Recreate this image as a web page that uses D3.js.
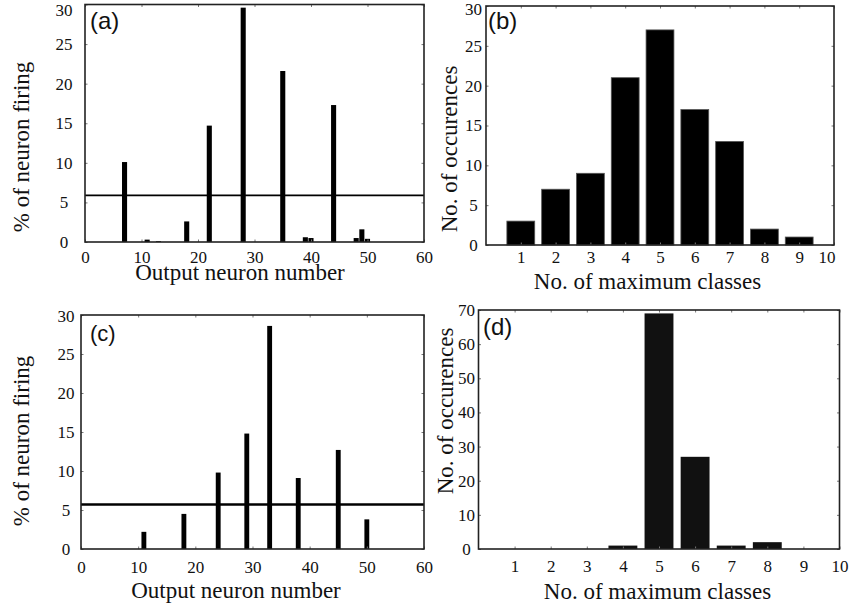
<!DOCTYPE html>
<html>
<head>
<meta charset="utf-8">
<script src="https://cdn.jsdelivr.net/npm/d3@7"></script>
<style>
  html, body { margin: 0; padding: 0; background: #fff; }
  svg { display: block; }
  .serif { font-family: 'Liberation Serif', 'Times New Roman', serif; }
  .sans { font-family: 'Liberation Sans', Arial, sans-serif; }
</style>
</head>
<body>
<svg id="chart" width="849" height="609"></svg>
<script>
// ---- data ----
const neuronsA = [7, 11, 13, 18, 22, 28, 35, 39, 40, 44, 48, 49, 50];
const firingA  = [10.1, 0.3, 0.1, 2.6, 14.7, 29.6, 21.6, 0.6, 0.5, 17.3, 0.5, 1.6, 0.4];
const thresholdA = 5.9;

const neuronsC = [11, 18, 24, 29, 33, 38, 45, 50];
const firingC  = [2.2, 4.5, 9.8, 14.8, 28.6, 9.1, 12.7, 3.8];
const thresholdC = 5.7;

const classes = [1, 2, 3, 4, 5, 6, 7, 8, 9];
const occurB  = [3, 7, 9, 21, 27, 17, 13, 2, 1];
const occurD  = [0, 0, 0, 1, 69, 27, 1, 2, 0];

const neuronTicks = [0, 10, 20, 30, 40, 50, 60];
const firingTicks = [0, 5, 10, 15, 20, 25, 30];
const classTicks  = [1, 2, 3, 4, 5, 6, 7, 8, 9, 10];
const occurTicksB = [0, 5, 10, 15, 20, 25, 30];
const occurTicksD = [0, 10, 20, 30, 40, 50, 60, 70];

const svg = d3.select("#chart");
const TICK_FS = 17, TITLE_FS = 23;

function panel(cfg) {
  const g = svg.append("g");
  const x = d3.scaleLinear().domain(cfg.xDomain).range([cfg.left, cfg.right]);
  const y = d3.scaleLinear().domain(cfg.yDomain).range([cfg.bottom, cfg.top]);

  // bars
  g.selectAll("rect.bar").data(cfg.xs.map((v, i) => ({x: v, y: cfg.ys[i]})).filter(d => d.y > 0))
    .enter().append("rect")
    .attr("x", d => x(d.x - cfg.barW / 2))
    .attr("width", d => x(d.x + cfg.barW / 2) - x(d.x - cfg.barW / 2))
    .attr("y", d => y(d.y))
    .attr("height", d => y(0) - y(d.y))
    .attr("fill", cfg.barColor)
    .attr("stroke", cfg.barStroke || "none")
    .attr("stroke-width", 0.8);

  // threshold
  if (cfg.threshold !== undefined) {
    g.append("line")
      .attr("x1", cfg.left).attr("x2", cfg.right)
      .attr("y1", y(cfg.threshold)).attr("y2", y(cfg.threshold))
      .attr("stroke", "#000").attr("stroke-width", cfg.thW);
  }

  // axes
  const bottom = g.append("g").attr("transform", `translate(0,${cfg.bottom})`)
    .call(d3.axisBottom(x).tickValues(cfg.xTicks).tickSizeInner(-2.5).tickSizeOuter(0).tickPadding(cfg.xPad));
  const top = g.append("g").attr("transform", `translate(0,${cfg.top})`)
    .call(d3.axisTop(x).tickValues(cfg.xTicks).tickSizeInner(-2.5).tickSizeOuter(0).tickFormat(""));
  const left = g.append("g").attr("transform", `translate(${cfg.left},0)`)
    .call(d3.axisLeft(y).tickValues(cfg.yTicks).tickSizeInner(-2.5).tickSizeOuter(0).tickPadding(cfg.yPad));
  const right = g.append("g").attr("transform", `translate(${cfg.right},0)`)
    .call(d3.axisRight(y).tickValues(cfg.yTicks).tickSizeInner(-2.5).tickSizeOuter(0).tickFormat(""));

  [bottom, top, left, right].forEach(a => {
    a.attr("font-family", null).attr("font-size", null);
    a.select(".domain").remove();
    a.selectAll(".tick line").attr("stroke", "#777").attr("stroke-width", 1);
  });
  bottom.selectAll(".tick text").attr("class", "serif").style("font-size", TICK_FS + "px").attr("fill", "#111")
    .attr("dy", null).attr("y", cfg.xPad);
  left.selectAll(".tick text").attr("class", "serif").style("font-size", TICK_FS + "px").attr("fill", "#111")
    .attr("text-anchor", "middle").attr("x", -cfg.yPad)
    .attr("y", d => Math.max(0, cfg.top + cfg.topMin - y(d)));
  if (cfg.lastEnd) {
    bottom.selectAll(".tick text").filter(d => d === cfg.xTicks[cfg.xTicks.length - 1])
      .attr("text-anchor", "end").attr("x", cfg.lastEnd);
  }

  // frame
  g.append("rect")
    .attr("x", cfg.left).attr("y", cfg.top)
    .attr("width", cfg.right - cfg.left).attr("height", cfg.bottom - cfg.top)
    .attr("fill", "none").attr("stroke", "#222").attr("stroke-width", 1.6);

  // panel label
  g.append("text").attr("class", "sans").attr("x", cfg.left + cfg.lblDx).attr("y", cfg.lblY)
    .style("font-size", cfg.lblSize + "px").attr("fill", "#111")
    .text(cfg.label);

  // axis titles
  g.append("text").attr("class", "serif").attr("x", cfg.xtX).attr("y", cfg.xtY)
    .attr("text-anchor", "middle").style("font-size", TITLE_FS + "px").attr("fill", "#111")
    .text(cfg.xTitle);
  g.append("text").attr("class", "serif").attr("transform", `translate(${cfg.ytX},${cfg.ytY}) rotate(-90)`)
    .attr("text-anchor", "middle").style("font-size", TITLE_FS + "px").attr("fill", "#111")
    .text(cfg.yTitle);
}

panel({
  left: 85, right: 424, top: 4.5, bottom: 242,
  xDomain: [0, 60], yDomain: [0, 30],
  xs: neuronsA, ys: firingA, barW: 0.9, barColor: "#000",
  threshold: thresholdA, thW: 1.8,
  xTicks: neuronTicks, yTicks: firingTicks, xPad: 20.5, yPad: 21, topMin: 5.5,
  label: "(a)", lblDx: 5, lblY: 29, lblSize: 24,
  xTitle: "Output neuron number", xtX: 240, xtY: 280,
  yTitle: "% of neuron firing", ytX: 29, ytY: 147
});

panel({
  left: 486, right: 834, top: 6, bottom: 245,
  xDomain: [0, 10], yDomain: [0, 30],
  xs: classes, ys: occurB, barW: 0.8, barColor: "#000", barStroke: "#555",
  xTicks: classTicks, yTicks: occurTicksB, xPad: 18, yPad: 12.5, lastEnd: 1, topMin: 3,
  label: "(b)", lblDx: 2, lblY: 29, lblSize: 24,
  xTitle: "No. of maximum classes", xtX: 647.5, xtY: 289,
  yTitle: "No. of occurences", ytX: 457, ytY: 149
});

panel({
  left: 81, right: 424, top: 315, bottom: 549,
  xDomain: [0, 60], yDomain: [0, 30],
  xs: neuronsC, ys: firingC, barW: 0.85, barColor: "#000",
  threshold: thresholdC, thW: 2.6,
  xTicks: neuronTicks, yTicks: firingTicks, xPad: 24, yPad: 15, topMin: 1,
  label: "(c)", lblDx: 9, lblY: 341, lblSize: 22,
  xTitle: "Output neuron number", xtX: 236, xtY: 598,
  yTitle: "% of neuron firing", ytX: 29, ytY: 441
});

panel({
  left: 478.5, right: 839.5, top: 310, bottom: 549,
  xDomain: [0, 10], yDomain: [0, 70],
  xs: classes, ys: occurD, barW: 0.8, barColor: "#111",
  xTicks: classTicks, yTicks: occurTicksD, xPad: 23, yPad: 12, topMin: -5,
  label: "(d)", lblDx: 4.5, lblY: 335, lblSize: 24,
  xTitle: "No. of maximum classes", xtX: 657.5, xtY: 599,
  yTitle: "No. of occurences", ytX: 453, ytY: 411
});
</script>
</body>
</html>
